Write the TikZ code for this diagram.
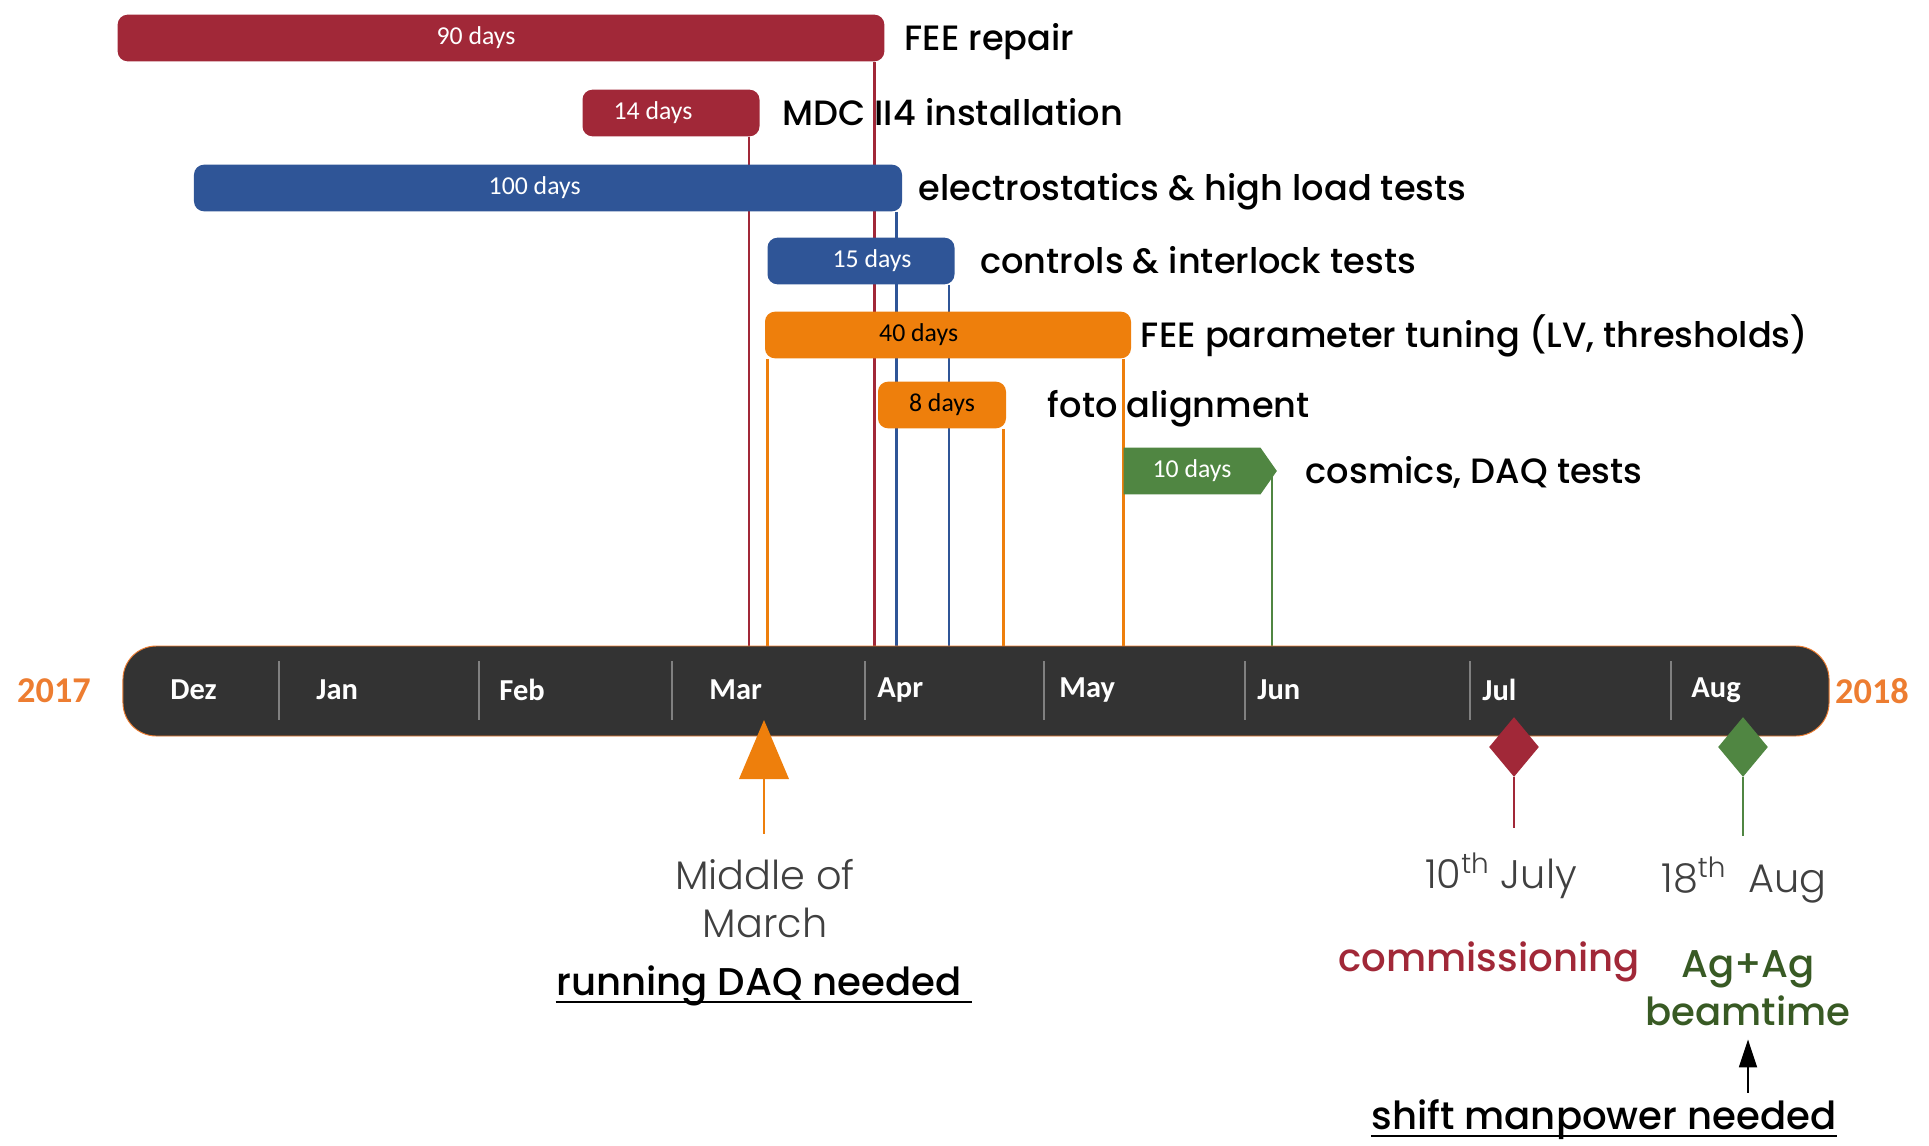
\documentclass[tikz,border=0pt]{standalone}
\usepackage{fontspec}
\setmainfont{Poppins Medium}
\newfontfamily\calib{Carlito}
\newfontfamily\poplight{Poppins Light}
\usetikzlibrary{positioning,shapes.geometric,shapes.symbols,arrows.meta}
\definecolor{feered}{RGB}{161,40,56}
\definecolor{testblue}{RGB}{47,85,151}
\definecolor{tuneorange}{RGB}{238,127,12}
\definecolor{cosmgreen}{RGB}{80,134,66}
\definecolor{beamgreen}{RGB}{56,90,36}
\definecolor{yearorange}{RGB}{237,125,49}
\definecolor{tlgray}{RGB}{51,51,51}
\definecolor{dategray}{RGB}{64,64,64}
\pgfdeclarelayer{background}
\pgfsetlayers{background,main}

\begin{document}
\begin{tikzpicture}[x=0.015cm, y=-0.015cm,
    bar/.style = {rounded corners=0.15cm, minimum height=0.7cm, inner sep=0pt},
   days/.style = {text=white, font=\calib\fontsize{11}{13}\selectfont},
   task/.style = {inner sep=0pt, text height=14pt, text depth=3pt,
                  font=\fontsize{15}{18}\selectfont},
  month/.style = {anchor=west, inner sep=0pt, text=white, font=\calib\bfseries\fontsize{13}{15}\selectfont},
   year/.style = {text=yearorange, font=\calib\bfseries\fontsize{15.5}{18}\selectfont},
   drop/.style = {line width=1.2pt},
   stem/.style = {line width=0.9pt},
   date/.style = {align=center, text=dategray, font=\poplight\fontsize{17}{20.5}\selectfont},
   note/.style = {align=center, inner sep=0pt, font=\fontsize{16.5}{20.5}\selectfont},
  uline/.style = {line width=1pt}
                    ]
\useasboundingbox (0,0) rectangle (1929,1145);

% tasks
\node[bar, fill=feered, minimum width=11.5cm,
      label={[days, xshift=-0.375cm]center:90 days}]  (fee)  at (501,38)  {};
\node[bar, fill=feered, minimum width=2.655cm,
      label={[days, xshift=-0.27cm]center:14 days}]   (mdc)  at (671,113) {};
\node[bar, fill=testblue, minimum width=10.62cm,
      label={[days, xshift=-0.2cm]center:100 days}]   (elec) at (548,188) {};
\node[bar, fill=testblue, minimum width=2.805cm,
      label={[days, xshift=0.165cm]center:15 days}]   (ctrl) at (861,261) {};
\node[bar, fill=tuneorange, minimum width=5.49cm,
      label={[days, text=black, xshift=-0.44cm]center:40 days}] (tune) at (948,335) {};
\node[bar, fill=tuneorange, minimum width=1.92cm,
      label={[days, text=black]center:8 days}]       (foto) at (942,405) {};
\node[bar, shape=signal, signal to=east, signal pointer angle=110, rounded corners=0pt,
      fill=cosmgreen, minimum width=2.3cm, days] (cosm) at (1192,471) {10 days};

\node[task, right=0.29cm of fee]   (fee-l)  {FEE repair};
\node[task, right=0.33cm of mdc]   (mdc-l)  {MDC II4 installation};
\node[task, right=0.24cm of elec]  (elec-l) {electrostatics \& high load tests};
\node[task, right=0.375cm of ctrl] (ctrl-l) {controls \& interlock tests};
\node[task, right=0.135cm of tune] (tune-l) {FEE parameter tuning (LV, thresholds)};
\node[task, right=0.615cm of foto] (foto-l) {foto alignment};
\node[task, right=0.42cm of cosm]  (cosm-l) {cosmics, DAQ tests};

% time line
\node[draw=yearorange, line width=0.4pt, fill=tlgray, rounded corners=0.5cm,
      minimum width=25.59cm, minimum height=1.35cm] (tl) at (976,691) {};
\foreach \x in {279,479,672,865,1044,1245,1470,1671}
  \draw[gray, line width=0.5pt] (\x,661) -- (\x,720);
\foreach \m/\x in {Dez/170,Jan/316,Feb/499,Mar/709,Apr/877,May/1059,Jun/1257,Jul/1482,Aug/1691}
  \node[month] (m-\m) at (\x,690) {\m};
\node[year] (y17) at (54,691)   {2017};
\node[year] (y18) at (1872,691) {2018};

\begin{pgfonlayer}{background}
\draw[drop, feered]     ([xshift=-0.165cm]mdc.south east)  -- ([xshift=-0.165cm]mdc.south east |- tl.north);
\draw[drop, feered]     ([xshift=-0.15cm]fee.south east)   -- ([xshift=-0.15cm]fee.south east |- tl.north);
\draw[drop, testblue]   ([xshift=-0.09cm]elec.south east)  -- ([xshift=-0.09cm]elec.south east |- tl.north);
\draw[drop, testblue]   ([xshift=-0.09cm]ctrl.south east)  -- ([xshift=-0.09cm]ctrl.south east |- tl.north);
\draw[drop, tuneorange] ([xshift=0.045cm]tune.south west)  -- ([xshift=0.045cm]tune.south west |- tl.north);
\draw[drop, tuneorange] ([xshift=-0.12cm]tune.south east)  -- ([xshift=-0.12cm]tune.south east |- tl.north);
\draw[drop, tuneorange] ([xshift=-0.045cm]foto.south east) -- ([xshift=-0.045cm]foto.south east |- tl.north);
\draw[drop, cosmgreen]  ([xshift=1.2cm]cosm.center)        -- ([xshift=1.2cm]cosm.center |- tl.north);
\end{pgfonlayer}

% milestones
\coordinate (mq) at (764,720);
\fill[tuneorange] (mq) -- ++(-25,59) coordinate (mq-l) -- ++(50,0) -- cycle;
\node[diamond, fill=feered, minimum width=0.75cm, minimum height=0.9cm, inner sep=0pt] (jul) at (1514,747) {};
\node[diamond, fill=cosmgreen, minimum width=0.75cm, minimum height=0.9cm, inner sep=0pt] (aug) at (1743,747) {};

\node[date] (mid-t) at (765,899)  {Middle of\\March};
\node[date] (jul-t) at (1501,876) {10\textsuperscript{th} July};
\node[date] (aug-t) at (1744,880) {18\textsuperscript{th}\ \ Aug};
\node[note, text=feered]    (comm)  at (1489,962) {commissioning};
\node[note, text=beamgreen] (beam)  at (1748,988) {Ag+Ag\\beamtime};
\node[note] (daq)   at (764,986)   {running DAQ needed~};
\node[note] (shift) at (1604,1120) {shift manpower needed};
\draw[uline] ([yshift=-2.6pt]daq.base west)   -- ([yshift=-2.6pt]daq.base east);
\draw[uline] ([yshift=-2.6pt]shift.base west) -- ([yshift=-2.6pt]shift.base east);

\draw[stem, tuneorange] (mq |- mq-l) -- ++(0,55);
\draw[stem, feered]     (jul.south) -- ++(0,51);
\draw[stem, cosmgreen]  (aug.south) -- ++(0,59);
\draw[-{Triangle[length=0.42cm,width=0.27cm]}, line width=0.8pt]
      ([yshift=0.1cm]beam.south |- shift.north) -- ([yshift=-0.2cm]beam.south);
\end{tikzpicture}
\end{document}
